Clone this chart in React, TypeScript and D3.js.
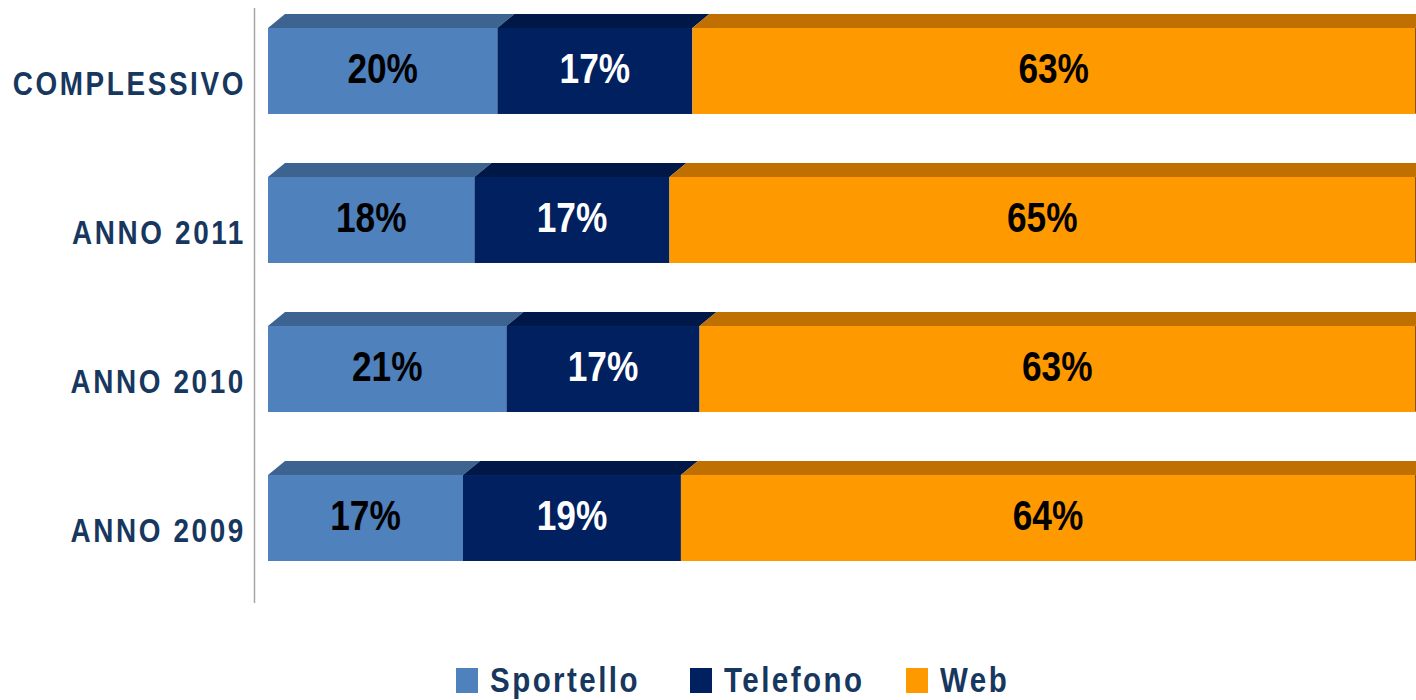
import React from 'react'
import * as d3 from 'd3'

const categories = ['COMPLESSIVO', 'ANNO 2011', 'ANNO 2010', 'ANNO 2009']
const seriesNames = ['Sportello', 'Telefono', 'Web']
const sportello = [20, 18, 21, 17]
const telefono = [17, 17, 17, 19]
const web = [63, 65, 63, 64]

const frontColors = ['#4F81BD', '#002060', '#FF9900']
const topColors = ['#3D6390', '#001848', '#C07000']
const labelColors = ['#000000', '#FFFFFF', '#000000']

const width = 1416
const height = 700
const depthX = 17
const depthY = 14
// no narrow font installed, so Liberation Sans is squeezed horizontally
const font = '"Liberation Sans", Arial, sans-serif'
const narrow = 0.82
const navy = '#17375E'

export default function App() {
  const values = [sportello, telefono, web]

  const yScale = d3.scaleBand<string>()
    .domain(categories)
    .range([28, 561])
    .paddingInner(0.423)
    .paddingOuter(0)

  const xScale = d3.scaleLinear().domain([0, 100]).range([268, 1415])

  const rows = categories.map((cat, i) => {
    const vals = values.map(s => s[i])
    const total = d3.sum(vals)
    let acc = 0
    const segs = vals.map((v, k) => {
      const start = acc
      acc += (v / total) * 100
      return { k, v, x0: xScale(start), x1: xScale(acc) }
    })
    return { cat, segs }
  })

  const bw = yScale.bandwidth()

  return (
    <svg width={width} height={height} style={{ position: 'absolute', left: 0, top: 0, overflow: 'hidden', background: '#fff' }}>
      <line x1={254.5} x2={254.5} y1={8} y2={603} stroke="#A6A6A6" strokeWidth={1.5} />
      {rows.map(row => {
        const y0 = yScale(row.cat) as number
        const last = row.segs[row.segs.length - 1]
        return (
          <g key={row.cat}>
            {row.segs.map(s => (
              <g key={s.k}>
                <polygon
                  points={`${s.x0},${y0} ${s.x0 + depthX},${y0 - depthY} ${s.x1 + depthX},${y0 - depthY} ${s.x1},${y0}`}
                  fill={topColors[s.k]}
                />
                <rect x={s.x0} y={y0} width={s.x1 - s.x0} height={bw} fill={frontColors[s.k]} />
              </g>
            ))}
            <polygon
              points={`${last.x1},${y0} ${last.x1 + depthX},${y0 - depthY} ${last.x1 + depthX},${y0 + bw - depthY} ${last.x1},${y0 + bw}`}
              fill="#8A5200"
            />
            {row.segs.map(s => (
              <text
                key={'t' + s.k}
                transform={`translate(${(s.x0 + s.x1) / 2},${y0 + bw * 0.64}) scale(${narrow},1)`}
                textAnchor="middle"
                fontFamily={font}
                fontWeight="bold"
                fontSize={43}
                fill={labelColors[s.k]}
              >
                {s.v}%
              </text>
            ))}
            <text
              transform={`translate(246,${y0 + 67}) scale(${narrow},1)`}
              textAnchor="end"
              fontFamily={font}
              fontWeight="bold"
              fontSize={34}
              letterSpacing={3.2}
              fill={navy}
            >
              {row.cat}
            </text>
          </g>
        )
      })}
      <g>
        {seriesNames.map((name, k) => {
          const xs = [456, 690, 906][k]
          return (
            <g key={name}>
              <rect x={xs} y={668} width={22} height={25} fill={frontColors[k]} />
              <text
                transform={`translate(${xs + 34},692) scale(${narrow},1)`}
                fontFamily={font}
                fontWeight="bold"
                fontSize={36}
                letterSpacing={3}
                fill={navy}
              >
                {name}
              </text>
            </g>
          )
        })}
      </g>
    </svg>
  )
}
